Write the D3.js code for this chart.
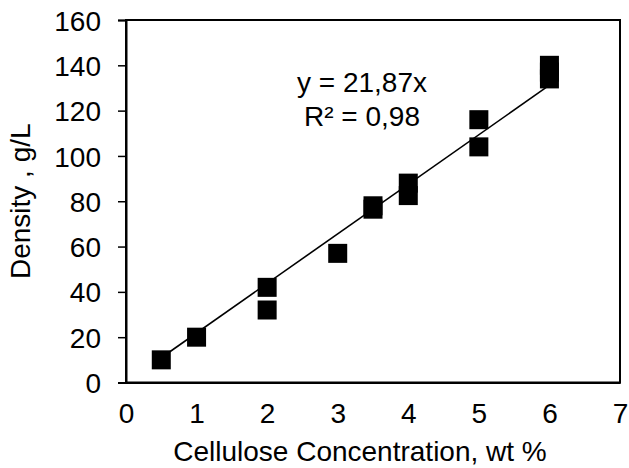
<!DOCTYPE html>
<html><head><meta charset="utf-8">
<script src="https://cdn.jsdelivr.net/npm/d3@7"></script>
<style>html,body{margin:0;padding:0;background:#fff;}text{font-family:"Liberation Sans",Arial,sans-serif;fill:#000;}</style>
</head><body>
<svg id="c" width="629" height="468"></svg>
<script>
const xVals = [0.5, 1, 2, 2, 3, 3.5, 3.5, 4, 4, 5, 5, 6, 6, 6];
const yVals = [10, 20, 42, 32, 57, 78, 76.5, 88, 82.5, 116, 104, 140, 137, 134];
const xTicks = [0, 1, 2, 3, 4, 5, 6, 7];
const yTicks = [0, 20, 40, 60, 80, 100, 120, 140, 160];
const slope = 21.87;
const trendRange = [0.5, 6];
const eqLines = ["y = 21,87x", "R² = 0,98"];
const xTitle = "Cellulose Concentration, wt %";
const yTitle = "Density , g/L";

const svg = d3.select("#c");
const L = 126, R = 620, T = 20, B = 382.5;
const x = d3.scaleLinear().domain([0, 7]).range([L, R]);
const y = d3.scaleLinear().domain([0, 160]).range([B, T]);
const fs = 28;

// frame
svg.append("rect").attr("x", L).attr("y", T).attr("width", R - L).attr("height", B - T)
  .attr("fill", "none").attr("stroke", "#000").attr("stroke-width", 2);

// y axis
const ya = svg.append("g").attr("transform", `translate(${L},0)`)
  .call(d3.axisLeft(y).tickValues(yTicks).tickSize(8).tickPadding(17).tickFormat(d3.format("d")));
ya.select(".domain").attr("stroke-width", 2);
ya.selectAll(".tick line").attr("stroke-width", 1.5);
ya.selectAll("text").attr("font-size", fs).attr("font-family", "Liberation Sans, Arial").attr("dy", "0.36em");

// x axis (labels only)
const xa = svg.append("g").attr("transform", `translate(0,${B})`)
  .call(d3.axisBottom(x).tickValues(xTicks).tickSize(0).tickPadding(21).tickFormat(d3.format("d")));
xa.select(".domain").attr("stroke-width", 2);
xa.selectAll("text").attr("font-size", fs).attr("font-family", "Liberation Sans, Arial");

// trendline
svg.append("line")
  .attr("x1", x(trendRange[0])).attr("y1", y(slope * trendRange[0]))
  .attr("x2", x(trendRange[1])).attr("y2", y(slope * trendRange[1]))
  .attr("stroke", "#000").attr("stroke-width", 1.6);

// markers
const s = 19;
svg.append("g").selectAll("rect").data(xVals.map((v, i) => [v, yVals[i]])).join("rect")
  .attr("x", d => x(d[0]) - s / 2).attr("y", d => y(d[1]) - s / 2)
  .attr("width", s).attr("height", s).attr("fill", "#000");

// equation
svg.append("g").selectAll("text").data(eqLines).join("text")
  .attr("x", 362).attr("y", (d, i) => 92 + i * 34)
  .attr("text-anchor", "middle").attr("font-size", fs).text(d => d);

// titles
svg.append("text").attr("x", 360).attr("y", 461).attr("text-anchor", "middle")
  .attr("font-size", fs).text(xTitle);
svg.append("text").attr("transform", `translate(30,${(T + B) / 2}) rotate(-90)`)
  .attr("text-anchor", "middle").attr("font-size", fs).text(yTitle);
</script>
</body></html>
